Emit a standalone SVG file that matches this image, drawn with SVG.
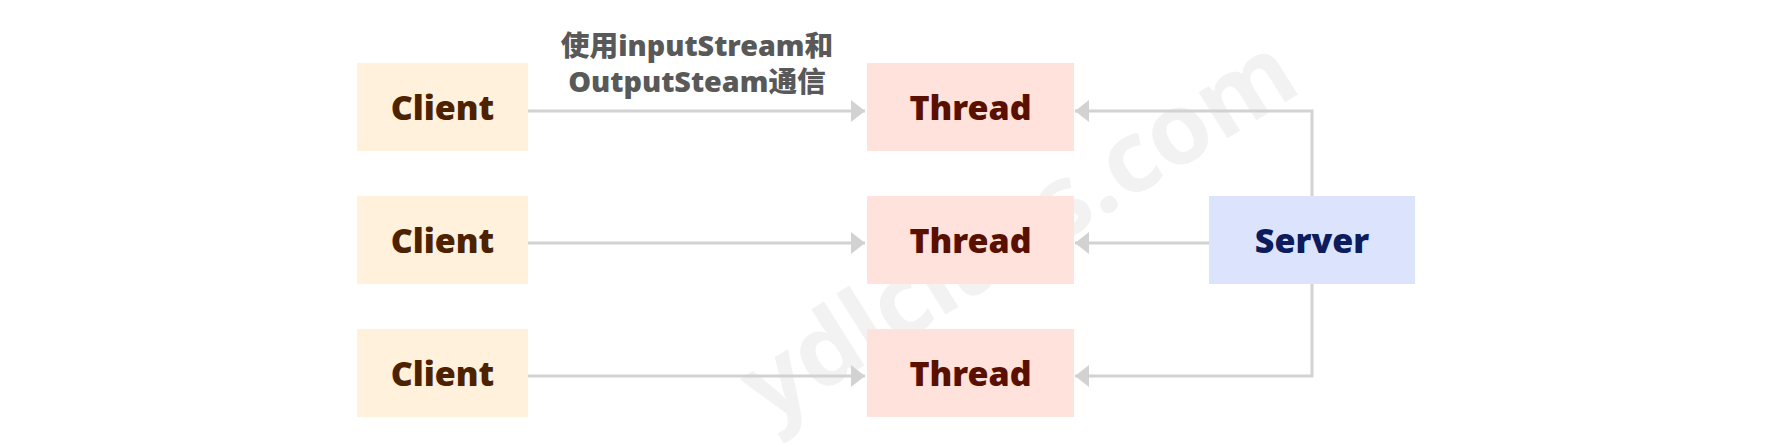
<svg xmlns="http://www.w3.org/2000/svg" width="1773" height="447" viewBox="0 0 1773 447">
<defs>
<style>
.client rect{fill:#fff1dc}
.thread rect{fill:#ffe2dc}
.server rect{fill:#dce4fd}
.lbl{font-family:"Noto Sans","Open Sans","Noto Sans CJK SC",sans-serif;font-weight:900;font-size:34px;text-anchor:middle}
.client text{fill:#4d2200}
.thread text{fill:#5a1000}
.server text{fill:#0c1c5c}
.conn{fill:none;stroke:#d2d2d2;stroke-width:3}
.note{font-family:"Noto Sans","Noto Sans CJK SC",sans-serif;font-weight:900;font-size:28.7px;fill:#595959;text-anchor:middle}
.wm{font-family:"Noto Sans","Open Sans",sans-serif;font-weight:bold;font-size:100px;fill:#000;fill-opacity:0.05;text-anchor:middle}
</style>
<marker id="ah" markerUnits="userSpaceOnUse" markerWidth="16" markerHeight="24" viewBox="0 0 16 24" refX="15" refY="12" orient="auto">
<path d="M1,1 L15,12 L1,23 Z" fill="#d2d2d2"/>
</marker>
</defs>
<rect width="1773" height="447" fill="#ffffff"/>
<text class="wm" x="1023" y="262" transform="rotate(-32 1023 237)">ydlclass.com</text>
<g id="connectors">
<path class="conn" d="M528,111 H865" marker-end="url(#ah)"/>
<path class="conn" d="M528,243 H865" marker-end="url(#ah)"/>
<path class="conn" d="M528,376 H865" marker-end="url(#ah)"/>
<path class="conn" d="M1312,196 V111 H1075" marker-end="url(#ah)"/>
<path class="conn" d="M1209,243 H1075" marker-end="url(#ah)"/>
<path class="conn" d="M1312,284 V376 H1075" marker-end="url(#ah)"/>
<text class="note" x="697" y="56">使用inputStream和</text>
<text class="note" x="697" y="92">OutputSteam通信</text>
</g>
<g id="client1" class="client"><rect x="357" y="63" width="171" height="88"/><text class="lbl" x="442.5" y="120">Client</text></g>
<g id="client2" class="client"><rect x="357" y="196" width="171" height="88"/><text class="lbl" x="442.5" y="253">Client</text></g>
<g id="client3" class="client"><rect x="357" y="329" width="171" height="88"/><text class="lbl" x="442.5" y="386">Client</text></g>
<g id="thread1" class="thread"><rect x="867" y="63" width="207" height="88"/><text class="lbl" x="970.5" y="120">Thread</text></g>
<g id="thread2" class="thread"><rect x="867" y="196" width="207" height="88"/><text class="lbl" x="970.5" y="253">Thread</text></g>
<g id="thread3" class="thread"><rect x="867" y="329" width="207" height="88"/><text class="lbl" x="970.5" y="386">Thread</text></g>
<g id="server" class="server"><rect x="1209" y="196" width="206" height="88"/><text class="lbl" x="1312" y="253">Server</text></g>
</svg>
